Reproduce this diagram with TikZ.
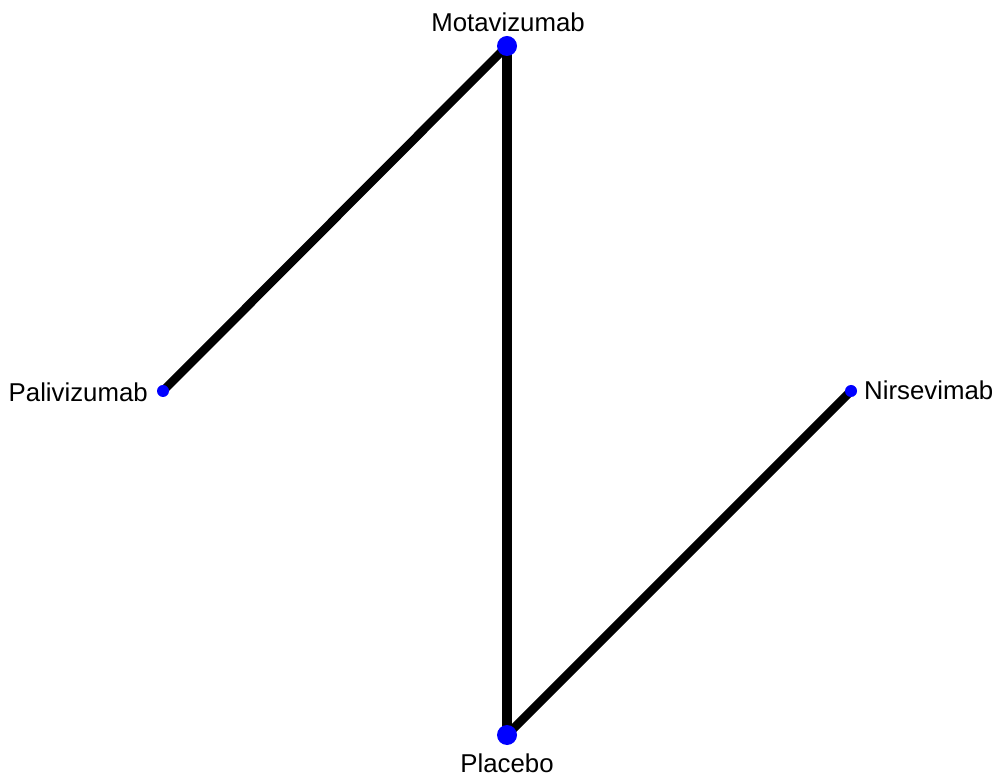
\documentclass[tikz,border=0pt]{standalone}
\usepackage{fontspec}
\setmainfont{Liberation Sans}
\begin{document}
\begin{tikzpicture}[x=1pt,y=1pt,
  bigdot/.style={circle,fill=blue,inner sep=0pt,minimum size=20pt},
  smalldot/.style={circle,fill=blue,inner sep=0pt,minimum size=12pt},
  edge/.style={line width=8.5pt,black},
  thickedge/.style={line width=10pt,black},
  lbl/.style={font=\fontsize{25.8}{30}\selectfont,inner sep=0pt}]
\useasboundingbox (0,0) rectangle (1001,782);
\coordinate (mc) at (507,736);
\coordinate (pc) at (163,391);
\coordinate (nc) at (851,391);
\coordinate (plc) at (507,47);
\draw[edge] (mc) -- (pc);
\draw[thickedge] (mc) -- (plc);
\draw[edge] (plc) -- (nc);
\node[bigdot] (mota) at (mc) {};
\node[smalldot] (pali) at (pc) {};
\node[smalldot] (nirs) at (nc) {};
\node[bigdot] (plac) at (plc) {};
\node[lbl,anchor=base] (tmota) at (508,750) {Motavizumab};
\node[lbl,anchor=base east] (tpali) at (148,380) {Palivizumab};
\node[lbl,anchor=base west] (tnirs) at (864,382) {Nirsevimab};
\node[lbl,anchor=base] (tplac) at (507,10) {Placebo};
\end{tikzpicture}
\end{document}
